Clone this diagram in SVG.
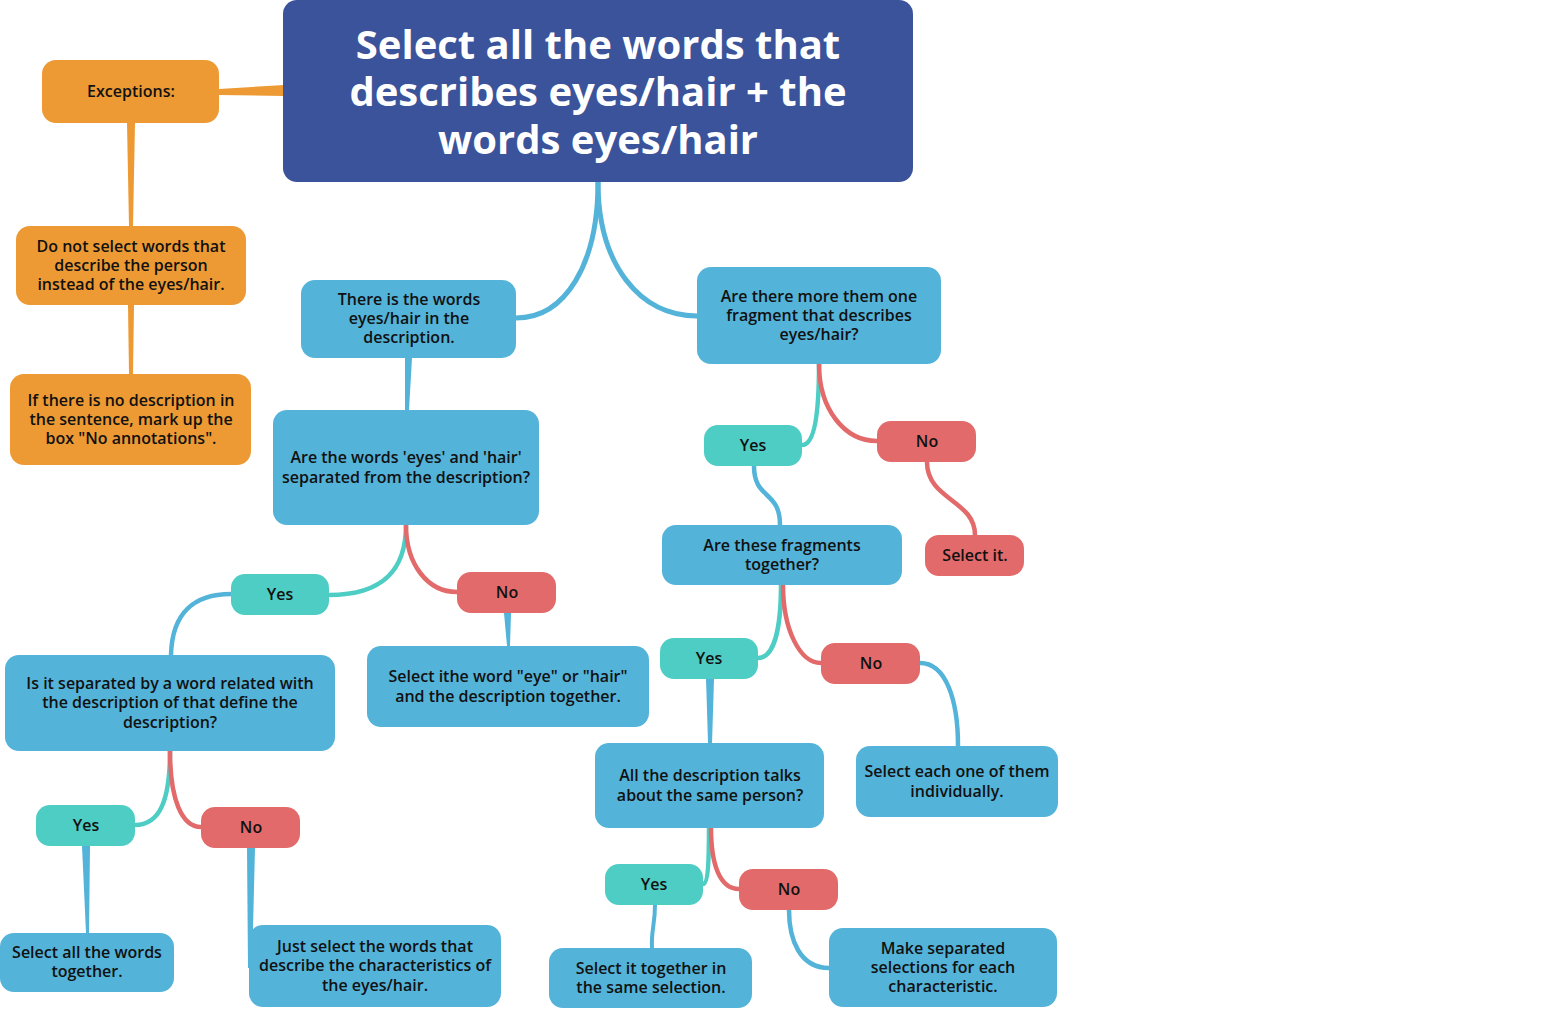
<svg xmlns="http://www.w3.org/2000/svg" width="1565" height="1009" viewBox="0 0 1565 1009">
<style>
.t{font-family:"Open Sans","Noto Sans","Liberation Sans",sans-serif;font-weight:600;font-size:16px;fill:#111;text-anchor:middle;dominant-baseline:central}
.rt{font-family:"Open Sans","Noto Sans","Liberation Sans",sans-serif;font-weight:700;font-size:40px;fill:#fff;text-anchor:middle;dominant-baseline:central}
.b{fill:#54B3D9}.o{fill:#ED9A34}.g{fill:#4ECDC4}.r{fill:#E26A6A}.d{fill:#3A539B}
.cb{fill:none;stroke:#54B3D9;stroke-width:4.5;stroke-linecap:round}
.cg{fill:none;stroke:#4ECDC4;stroke-width:4.5;stroke-linecap:round}
.cr{fill:none;stroke:#E26A6A;stroke-width:4.5;stroke-linecap:round}
</style>
<rect width="1565" height="1009" fill="#fff"/>
<g id="connectors">
<polygon class="o" points="284,85 284,96 219,95 219,89"/>
<polygon class="o" points="127,123 135,123 133,226 129,226"/>
<polygon class="o" points="128,305 134,305 133,374 129,374"/>
<path class="cb" d="M598,182 C598,265 565,318 516,318" style="stroke-width:5"/>
<path class="cb" d="M598,182 C598,265 640,316 697,316" style="stroke-width:5"/>
<polygon class="b" points="405,358 412,358 409,410 405,410"/>
<path class="cg" d="M406,525 C406,568 385,595 329,595"/>
<path class="cr" d="M406,525 C406,565 428,592 457,592"/>
<path class="cb" d="M231,594 C195,594 172,612 171,655"/>
<polygon class="b" points="504,613 511,613 510,646 507,646"/>
<path class="cg" d="M170,751 C170,800 160,825 135,825"/>
<path class="cr" d="M170,751 C170,800 182,827 201,827"/>
<polygon class="b" points="82,846 90,846 89,933 86,933"/>
<polygon class="b" points="247,848 255,848 252,968 248,968"/>
<path class="cg" d="M819,364 C819,410 815,445 802,445"/>
<path class="cr" d="M819,364 C819,410 845,441 877,441"/>
<path class="cr" d="M927,462 C927,500 975,500 975,535"/>
<path class="cb" d="M754,466 C754,500 780,490 780,525"/>
<path class="cg" d="M781,585 C781,625 775,658 758,658"/>
<path class="cr" d="M783,585 C783,630 800,663 821,663"/>
<polygon class="b" points="706,679 714,679 712,743 708,743"/>
<path class="cb" d="M920,663 C946,663 958,700 958,746"/>
<path class="cg" d="M709,828 C709,860 708,884 703,884"/>
<path class="cr" d="M711,828 C711,865 720,889 739,889"/>
<path class="cb" d="M655,905 C655,925 651,930 652,948" style="stroke-width:4"/>
<path class="cb" d="M789,910 C789,940 800,968 829,968"/>
</g>
<g id="root"><rect class="d" x="283" y="0" width="630" height="182" rx="14"/>
<text class="rt" x="598" y="43">Select all the words that</text>
<text class="rt" x="598" y="90">describes eyes/hair + the</text>
<text class="rt" x="598" y="138">words eyes/hair</text></g>
<g id="exceptions"><rect class="o" x="42" y="60" width="177" height="63" rx="14"/><text class="t" x="131" y="91">Exceptions:</text></g>
<g id="ex1"><rect class="o" x="16" y="226" width="230" height="79" rx="14"/>
<text class="t" x="131" y="246">Do not select words that</text><text class="t" x="131" y="265">describe the person</text><text class="t" x="131" y="284">instead of the eyes/hair.</text></g>
<g id="ex2"><rect class="o" x="10" y="374" width="241" height="91" rx="14"/>
<text class="t" x="131" y="400">If there is no description in</text><text class="t" x="131" y="419">the sentence, mark up the</text><text class="t" x="131" y="438">box "No annotations".</text></g>
<g id="n1"><rect class="b" x="301" y="280" width="215" height="78" rx="14"/>
<text class="t" x="409" y="299">There is the words</text><text class="t" x="409" y="318">eyes/hair in the</text><text class="t" x="409" y="337">description.</text></g>
<g id="n2"><rect class="b" x="697" y="267" width="244" height="97" rx="14"/>
<text class="t" x="819" y="296">Are there more them one</text><text class="t" x="819" y="315">fragment that describes</text><text class="t" x="819" y="334">eyes/hair?</text></g>
<g id="n3"><rect class="b" x="273" y="410" width="266" height="115" rx="14"/>
<text class="t" x="406" y="457">Are the words 'eyes' and 'hair'</text><text class="t" x="406" y="477">separated from the description?</text></g>
<g id="y1"><rect class="g" x="231" y="574" width="98" height="41" rx="14"/><text class="t" x="280" y="594">Yes</text></g>
<g id="no1"><rect class="r" x="457" y="572" width="99" height="41" rx="14"/><text class="t" x="507" y="592">No</text></g>
<g id="n4"><rect class="b" x="5" y="655" width="330" height="96" rx="14"/>
<text class="t" x="170" y="683">Is it separated by a word related with</text><text class="t" x="170" y="702">the description of that define the</text><text class="t" x="170" y="722">description?</text></g>
<g id="n5"><rect class="b" x="367" y="646" width="282" height="81" rx="14"/>
<text class="t" x="508" y="676">Select ithe word "eye" or "hair"</text><text class="t" x="508" y="696">and the description together.</text></g>
<g id="y2"><rect class="g" x="36" y="805" width="99" height="41" rx="14"/><text class="t" x="86" y="825">Yes</text></g>
<g id="no2"><rect class="r" x="201" y="807" width="99" height="41" rx="14"/><text class="t" x="251" y="827">No</text></g>
<g id="n6"><rect class="b" x="0" y="933" width="174" height="59" rx="14"/>
<text class="t" x="87" y="952">Select all the words</text><text class="t" x="87" y="971">together.</text></g>
<g id="n7"><rect class="b" x="249" y="925" width="252" height="82" rx="14"/>
<text class="t" x="375" y="946">Just select the words that</text><text class="t" x="375" y="965">describe the characteristics of</text><text class="t" x="375" y="985">the eyes/hair.</text></g>
<g id="y3"><rect class="g" x="704" y="425" width="98" height="41" rx="14"/><text class="t" x="753" y="445">Yes</text></g>
<g id="no3"><rect class="r" x="877" y="421" width="99" height="41" rx="14"/><text class="t" x="927" y="441">No</text></g>
<g id="n8"><rect class="r" x="925" y="535" width="99" height="41" rx="14"/><text class="t" x="975" y="555">Select it.</text></g>
<g id="n9"><rect class="b" x="662" y="525" width="240" height="60" rx="14"/>
<text class="t" x="782" y="545">Are these fragments</text><text class="t" x="782" y="564">together?</text></g>
<g id="y4"><rect class="g" x="660" y="638" width="98" height="41" rx="14"/><text class="t" x="709" y="658">Yes</text></g>
<g id="no4"><rect class="r" x="821" y="643" width="99" height="41" rx="14"/><text class="t" x="871" y="663">No</text></g>
<g id="n10"><rect class="b" x="595" y="743" width="229" height="85" rx="14"/>
<text class="t" x="710" y="775">All the description talks</text><text class="t" x="710" y="795">about the same person?</text></g>
<g id="n11"><rect class="b" x="856" y="746" width="202" height="71" rx="14"/>
<text class="t" x="957" y="771">Select each one of them</text><text class="t" x="957" y="791">individually.</text></g>
<g id="y5"><rect class="g" x="605" y="864" width="98" height="41" rx="14"/><text class="t" x="654" y="884">Yes</text></g>
<g id="no5"><rect class="r" x="739" y="869" width="99" height="41" rx="14"/><text class="t" x="789" y="889">No</text></g>
<g id="n12"><rect class="b" x="549" y="948" width="203" height="60" rx="14"/>
<text class="t" x="651" y="968">Select it together in</text><text class="t" x="651" y="987">the same selection.</text></g>
<g id="n13"><rect class="b" x="829" y="928" width="228" height="79" rx="14"/>
<text class="t" x="943" y="948">Make separated</text><text class="t" x="943" y="967">selections for each</text><text class="t" x="943" y="986">characteristic.</text></g>
</svg>
